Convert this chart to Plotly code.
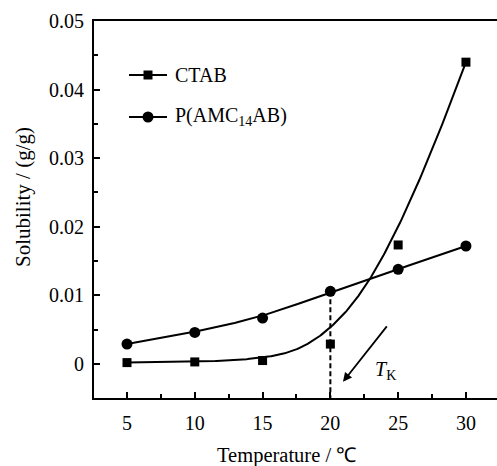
import numpy as np
import plotly.graph_objects as go

# ---- data ----
temperature = [5, 10, 15, 20, 25, 30]
ctab = [0.0002, 0.0003, 0.0005, 0.0029, 0.01735, 0.0440]
pamc = [0.0029, 0.0046, 0.0067, 0.0106, 0.0138, 0.0172]
series_names = ["CTAB", "P(AMC<sub>14</sub>AB)"]
x_ticks = [5, 10, 15, 20, 25, 30]
y_ticks = [0, 0.01, 0.02, 0.03, 0.04, 0.05]
y_tick_labels = ["0", "0.01", "0.02", "0.03", "0.04", "0.05"]


def bspline(xs, ys, n=300, p=3):
    """Clamped cubic B-spline with the data points as control points (Origin 'B-Spline' connect)."""
    P = np.column_stack([xs, ys]).astype(float)
    m = len(P)
    knots = np.concatenate([[0] * p, np.arange(m - p + 1), [m - p] * p]).astype(float)
    out = []
    for t in np.linspace(0, m - p, n):
        k = np.searchsorted(knots, t, side="right") - 1
        k = min(k, m - 1)
        d = [P[j + k - p].copy() for j in range(p + 1)]
        for r in range(1, p + 1):
            for j in range(p, r - 1, -1):
                den = knots[j + 1 + k - r] - knots[j + k - p]
                a = 0.0 if den == 0 else (t - knots[j + k - p]) / den
                d[j] = (1 - a) * d[j - 1] + a * d[j]
        out.append(d[p])
    out = np.array(out)
    return out[:, 0], out[:, 1]


FONT = "Liberation Serif, Times New Roman, serif"
W, H = 497, 466
L, R, T, B = 94, 0, 21, 68
pw, ph = W - L - R, H - T - B


def px2paper(xp, yp):
    return (xp - L) / pw, (H - B - yp) / ph


fig = go.Figure()

cx, cy = bspline(temperature, ctab)
px_, py_ = bspline(temperature, pamc)

fig.add_trace(go.Scatter(x=cx, y=cy, mode="lines", line=dict(color="black", width=2),
                         showlegend=False, hoverinfo="skip"))
fig.add_trace(go.Scatter(x=px_, y=py_, mode="lines", line=dict(color="black", width=2),
                         showlegend=False, hoverinfo="skip"))
fig.add_trace(go.Scatter(x=temperature, y=ctab, mode="markers", name="CTAB",
                         marker=dict(symbol="square", size=9, color="black"), showlegend=False))
fig.add_trace(go.Scatter(x=temperature, y=pamc, mode="markers", name="P(AMC14AB)",
                         marker=dict(symbol="circle", size=11, color="black"), showlegend=False))

# dashed vertical line at the Krafft temperature
fig.add_shape(type="line", xref="x", yref="y", x0=temperature[3], x1=temperature[3],
              y0=pamc[3], y1=-0.005, line=dict(color="black", width=2, dash="5px,3px"))

# arrow and T_K label
fig.add_annotation(x=20.93, y=-0.0026, ax=24.25, ay=0.0057, xref="x", yref="y",
                   axref="x", ayref="y", showarrow=True, arrowhead=2, arrowsize=1,
                   arrowwidth=1.8, arrowcolor="black", text="")
fig.add_annotation(x=24.1, y=-0.0009, xref="x", yref="y", showarrow=False,
                   text="<i>T</i><sub>K</sub>", font=dict(family=FONT, size=20, color="black"))

# manual legend (line + symbol + text)
leg_rows = [75, 117]
for i, (name, yp) in enumerate(zip(series_names, leg_rows)):
    x0, y0 = px2paper(129, yp)
    x1, _ = px2paper(167, yp)
    fig.add_shape(type="line", xref="paper", yref="paper", x0=x0, x1=x1, y0=y0, y1=y0,
                  line=dict(color="black", width=2))
    s = 4.5 if i == 0 else 5.5
    a0, b0 = px2paper(148 - s, yp + s)
    a1, b1 = px2paper(148 + s, yp - s)
    fig.add_shape(type="rect" if i == 0 else "circle", xref="paper", yref="paper",
                  x0=a0, x1=a1, y0=b0, y1=b1, fillcolor="black", line=dict(width=0))
    tx, ty = px2paper(173, yp)
    fig.add_annotation(x=tx, y=ty, xref="paper", yref="paper", showarrow=False,
                       xanchor="left", yanchor="middle", text=name,
                       font=dict(family=FONT, size=20, color="black"))

# axis titles
tx, ty = px2paper(286, 455)
fig.add_annotation(x=tx, y=ty, xref="paper", yref="paper", showarrow=False,
                   xanchor="center", yanchor="middle",
                   text="Temperature / ℃", font=dict(family=FONT, size=20.5, color="black"))
tx, ty = px2paper(23, 197)
fig.add_annotation(x=tx, y=ty, xref="paper", yref="paper", showarrow=False,
                   textangle=-90, xanchor="center", yanchor="middle",
                   text="Solubility / (g/g)", font=dict(family=FONT, size=21, color="black"))

fig.update_layout(
    width=W, height=H,
    margin=dict(l=L, r=R, t=T, b=B),
    paper_bgcolor="white", plot_bgcolor="white",
    font=dict(family=FONT, size=20, color="black"),
    showlegend=False,
    xaxis=dict(range=[2.566, 32.29], showgrid=False, zeroline=False,
               showline=True, linecolor="black", linewidth=2, mirror=True,
               ticks="inside", ticklen=6, tickwidth=2, tickcolor="black",
               tickvals=x_ticks, ticklabelstandoff=6,
               minor=dict(ticks="inside", ticklen=4, tickwidth=2, dtick=2.5, tick0=0, tickcolor="black"),
               tickfont=dict(family=FONT, size=20)),
    yaxis=dict(range=[-0.00496, 0.05], showgrid=False, zeroline=False,
               showline=True, linecolor="black", linewidth=2, mirror=False,
               ticks="inside", ticklen=6, tickwidth=2, tickcolor="black",
               tickvals=y_ticks, ticktext=y_tick_labels, ticklabelstandoff=4,
               minor=dict(ticks="inside", ticklen=4, tickwidth=2, dtick=0.005, tick0=0, tickcolor="black"),
               tickfont=dict(family=FONT, size=20)),
)

fig.write_html("out.html")
